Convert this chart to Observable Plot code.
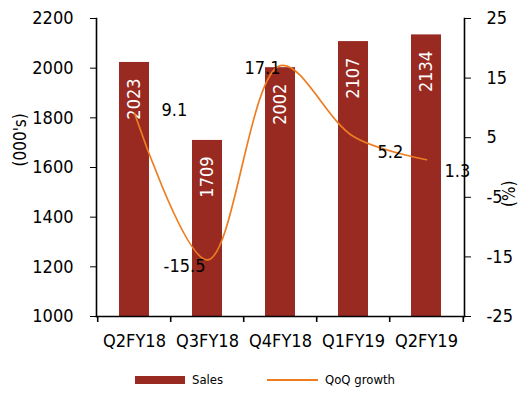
<!DOCTYPE html>
<html>
<head>
<meta charset="utf-8">
<script src="https://cdn.jsdelivr.net/npm/d3@7"></script>
<script src="https://cdn.jsdelivr.net/npm/@observablehq/plot@0.6"></script>
<style>
  html, body { margin: 0; padding: 0; background: #fff; }
  body { font-family: "Liberation Sans Narrow", "DejaVu Sans Condensed", "Arial Narrow", sans-serif; }
  #chart svg { display: block; }
  .legend { position: relative; height: 34px; font-size: 13px; color: #000; }
  .legend .item { position: absolute; top: 12px; display: flex; align-items: center; gap: 7px; }
  .legend .bar { width: 50px; height: 8px; background: #982A21; }
  .legend .line { width: 51px; height: 2px; background: #EE7D22; }
</style>
</head>
<body>
<div id="chart"></div>
<div class="legend">
  <div class="item" style="left:135px"><span class="bar"></span><span>Sales</span></div>
  <div class="item" style="left:267px"><span class="line"></span><span>QoQ growth</span></div>
</div>
<script>
// Quarterly sales (000's) and quarter-on-quarter growth (%)
const quarters = ["Q2FY18", "Q3FY18", "Q4FY18", "Q1FY19", "Q2FY19"];
const sales = [2023, 1709, 2002, 2107, 2134];
const qoqGrowth = [9.1, -15.5, 17.1, 5.2, 1.3];

const salesTicks = [1000, 1200, 1400, 1600, 1800, 2000, 2200];
const growthTicks = [-25, -15, -5, 5, 15, 25];
const salesDomain = [1000, 2200];
const growthDomain = [-25, 25];

// Growth values share the sales scale through a linear mapping (secondary axis)
const k = (salesDomain[1] - salesDomain[0]) / (growthDomain[1] - growthDomain[0]);
const toSales = g => salesDomain[0] + (g - growthDomain[0]) * k;
const fromSales = s => growthDomain[0] + (s - salesDomain[0]) / k;

// Label placement for the growth values: [textAnchor, dx, dy]
const growthLabelPlacement = [
  ["start", 27, -3],
  ["end", -2, 6],
  ["end", 0, 3],
  ["start", 24, 16],
  ["start", 18, 11]
];

const width = 518, height = 360;
const marginLeft = 96, marginRight = 54, marginTop = 18, marginBottom = 44;
const step = (width - marginLeft - marginRight) / quarters.length;

const rows = quarters.map((q, i) => ({quarter: q, sales: sales[i], growth: qoqGrowth[i], g: toSales(qoqGrowth[i])}));

const font = `"Liberation Sans Narrow", "DejaVu Sans Condensed", "Arial Narrow", sans-serif`;

const growthLabels = rows.map((d, i) => Plot.text([d], {
  x: "quarter", y: "g", text: r => String(r.growth),
  textAnchor: growthLabelPlacement[i][0],
  dx: growthLabelPlacement[i][1], dy: growthLabelPlacement[i][2],
  fontSize: 18, fill: "#000"
}));

const chart = Plot.plot({
  width, height, marginLeft, marginRight, marginTop, marginBottom,
  style: {fontFamily: font, fontSize: "18px", color: "#000", background: "#fff"},
  x: {domain: quarters, paddingInner: 0.59, paddingOuter: 0.295, align: 0.5},
  y: {domain: salesDomain},
  marks: [
    Plot.barY(rows, {x: "quarter", y1: salesDomain[0], y2: "sales", fill: "#982A21"}),
    Plot.text(rows, {
      x: "quarter", y: "sales", text: d => String(d.sales),
      rotate: -90, textAnchor: "end", dy: 16, fill: "#fff", fontSize: 18
    }),
    Plot.line(rows, {x: "quarter", y: "g", curve: "catmull-rom", stroke: "#EE7D22", strokeWidth: 1.7}),
    ...growthLabels,
    Plot.frame({anchor: "left", stroke: "#000", strokeWidth: 1.6}),
    Plot.frame({anchor: "right", stroke: "#000", strokeWidth: 1.6}),
    Plot.frame({anchor: "bottom", stroke: "#000", strokeWidth: 1.6}),
    // category boundary ticks below the x axis
    Plot.ruleX(quarters, {x: d => d, dx: -step / 2, y1: salesDomain[0], y2: salesDomain[0] - 24, stroke: "#000", strokeWidth: 1.6}),
    Plot.ruleX(quarters.slice(-1), {x: d => d, dx: step / 2, y1: salesDomain[0], y2: salesDomain[0] - 24, stroke: "#000", strokeWidth: 1.6}),
    Plot.axisX({tickSize: 0, tickPadding: 18, fontSize: 18, label: null}),
    Plot.axisY(salesTicks, {anchor: "left", tickSize: 6, tickPadding: 17, fontSize: 18, label: null, tickFormat: d => String(d)}),
    Plot.axisY(growthTicks.map(toSales), {anchor: "right", tickSize: 6, tickPadding: 16, fontSize: 18, label: null,
      tickFormat: d => String(Math.round(fromSales(d)))}),
    Plot.text(["(000's)"], {frameAnchor: "left", dx: -76, dy: -1, rotate: -90, fontSize: 17, fill: "#000"}),
    Plot.text(["(%)"], {frameAnchor: "right", dx: 45, dy: 13, rotate: -90, fontSize: 17, fill: "#000"})
  ]
});

document.getElementById("chart").append(chart);
</script>
</body>
</html>
